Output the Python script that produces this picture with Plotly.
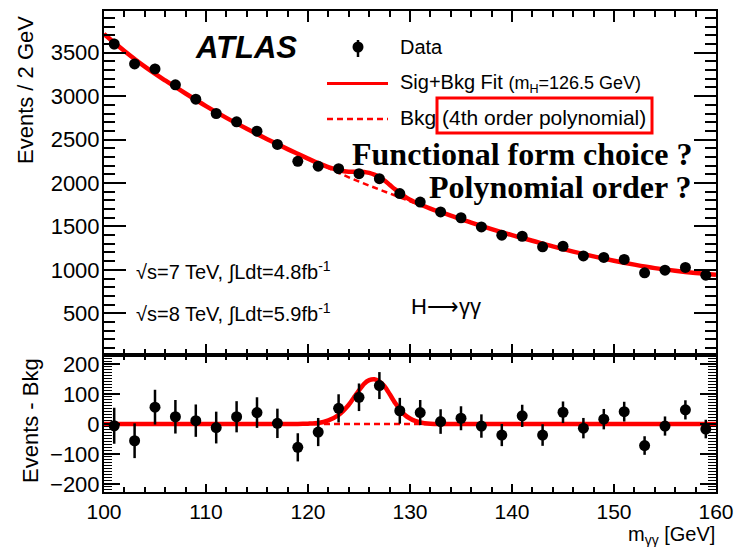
import numpy as np
import plotly.graph_objects as go

# ---------------- data ----------------
mass = [101, 103, 105, 107, 109, 111, 113, 115, 117, 119,
        121, 123, 125, 127, 129, 131, 133, 135, 137, 139,
        141, 143, 145, 147, 149, 151, 153, 155, 157, 159]
events = [3600, 3371, 3313, 3130, 2965, 2800, 2704, 2597, 2444, 2250,
          2193, 2165, 2107, 2050, 1878, 1781, 1667, 1600, 1494, 1399,
          1387, 1265, 1272, 1161, 1143, 1120, 966, 997, 1028, 939]
errors = [60, 58, 58, 56, 54, 53, 52, 51, 49, 47,
          47, 47, 46, 45, 43, 42, 41, 40, 39, 37,
          37, 36, 36, 34, 34, 33, 31, 32, 32, 31]
residual = [-6, -56, 56, 24, 11, -12, 24, 38, 2, -78,
            -27, 52, 89, 128, 44, 38, 8, 19, -7, -37,
            27, -37, 39, -14, 16, 41, -72, -7, 47, -17]

# background (4th order polynomial) curve read at 2 GeV steps
bkg_x = [100, 102, 104, 106, 108, 110, 112, 114, 116, 118, 120,
         122, 124, 126, 128, 130, 132, 134, 136, 138, 140,
         142, 144, 146, 148, 150, 152, 154, 156, 158, 160]
bkg_y = [3715, 3520, 3340, 3180, 3030, 2885, 2750, 2625, 2505, 2390, 2280,
         2170, 2065, 1970, 1880, 1790, 1705, 1625, 1545, 1470, 1400,
         1335, 1270, 1210, 1155, 1105, 1060, 1020, 990, 965, 945]

# signal component (Sig+Bkg fit minus Bkg), as seen in the lower panel
sig_x = [100, 118, 119, 120, 121, 122, 123, 124, 124.5, 125, 125.5, 126,
         126.5, 127, 127.5, 128, 128.5, 129, 129.5, 130, 130.5, 131, 132,
         133, 134, 160]
sig_y = [0, 0, 0, 1, 3, 12, 30, 64, 88, 112, 134, 146,
         149, 141, 126, 100, 72, 50, 30, 18, 10, 5, 1,
         0, 0, 0]

x_ticks = [100, 110, 120, 130, 140, 150, 160]
y_ticks_top = [500, 1000, 1500, 2000, 2500, 3000, 3500]
y_ticks_low = [-200, -100, 0, 100, 200]

# ---------------- derived curves ----------------
fit_x = sorted(set(bkg_x) | set(sig_x))
fit_y = list(np.interp(fit_x, bkg_x, bkg_y) + np.interp(fit_x, sig_x, sig_y))
zero_y = [0 for _ in bkg_x]

# ---------------- layout geometry (pixels) ----------------
W, H = 735, 547
L, R, T, B = 104, 716, 11, 492
SPLIT = 355


def px(x):
    return (x - L) / (R - L)


def py(y):
    return (B - y) / (B - T)


RED = "#ff0000"
SANS = "Liberation Sans, Arial, Helvetica, sans-serif"
SERIF = "Liberation Serif, Times New Roman, serif"

fig = go.Figure()

# ---- upper panel ----
fig.add_trace(go.Scatter(x=bkg_x, y=bkg_y, mode="lines", xaxis="x", yaxis="y",
                         line=dict(color=RED, width=2.5, dash="6px,4px", shape="spline"),
                         hoverinfo="skip", showlegend=False))
fig.add_trace(go.Scatter(x=fit_x, y=fit_y, mode="lines", xaxis="x", yaxis="y",
                         line=dict(color=RED, width=4.5, shape="spline"),
                         hoverinfo="skip", showlegend=False))
fig.add_trace(go.Scatter(x=mass, y=events, mode="markers", xaxis="x", yaxis="y",
                         marker=dict(color="black", size=11),
                         error_y=dict(type="data", array=errors, color="black",
                                      thickness=2.5, width=0),
                         showlegend=False))

# ---- lower panel ----
fig.add_trace(go.Scatter(x=bkg_x, y=zero_y, mode="lines", xaxis="x2", yaxis="y2",
                         line=dict(color=RED, width=2.5, dash="6px,4px"),
                         hoverinfo="skip", showlegend=False))
fig.add_trace(go.Scatter(x=sig_x, y=sig_y, mode="lines", xaxis="x2", yaxis="y2",
                         line=dict(color=RED, width=4.5, shape="spline", smoothing=0.6),
                         hoverinfo="skip", showlegend=False))
fig.add_trace(go.Scatter(x=mass, y=residual, mode="markers", xaxis="x2", yaxis="y2",
                         marker=dict(color="black", size=11),
                         error_y=dict(type="data", array=errors, color="black",
                                      thickness=2.5, width=0),
                         showlegend=False))

split_frac = py(SPLIT)

axis_common = dict(showline=True, linecolor="black", linewidth=2, mirror="allticks",
                   ticks="inside", tickcolor="black", tickwidth=1.5,
                   showgrid=False, zeroline=False, automargin=False)

fig.update_layout(
    width=W, height=H,
    margin=dict(l=L, r=W - R, t=T, b=H - B, pad=0),
    paper_bgcolor="white", plot_bgcolor="white",
    font=dict(family=SANS, color="black"),
    showlegend=False,
    xaxis=dict(domain=[0, 1], anchor="y", range=[100, 160], matches="x2",
               tickvals=x_ticks, ticklen=11, showticklabels=False,
               minor=dict(dtick=2, tick0=100, ticklen=6, ticks="inside",
                          tickcolor="black", tickwidth=1.5, showgrid=False),
               **axis_common),
    yaxis=dict(domain=[split_frac, 1], anchor="x", range=[20, 3980],
               tickvals=y_ticks_top, ticklen=22,
               tickfont=dict(size=22, family=SANS, color="black"),
               ticklabelstandoff=-2,
               minor=dict(dtick=100, tick0=0, ticklen=11, ticks="inside",
                          tickcolor="black", tickwidth=1.5, showgrid=False),
               **axis_common),
    xaxis2=dict(domain=[0, 1], anchor="y2", range=[100, 160],
                tickvals=x_ticks, ticklen=8,
                tickfont=dict(size=21, family=SANS, color="black"),
                ticklabelstandoff=0,
                minor=dict(dtick=2, tick0=100, ticklen=5, ticks="inside",
                           tickcolor="black", tickwidth=1.5, showgrid=False),
                **axis_common),
    yaxis2=dict(domain=[0, split_frac], anchor="x2", range=[-227, 230],
                tickvals=y_ticks_low, ticklen=16,
                tickfont=dict(size=22, family=SANS, color="black"),
                ticklabelstandoff=-2,
                minor=dict(dtick=10, tick0=0, ticklen=8, ticks="inside",
                           tickcolor="black", tickwidth=1.2, showgrid=False),
                **axis_common),
)

ann = []


def text(x, y, s, size=20, xanchor="left", family=SANS, angle=0, yanchor="middle"):
    ann.append(dict(x=px(x), y=py(y), xref="paper", yref="paper", text=s,
                    showarrow=False, xanchor=xanchor, yanchor=yanchor,
                    textangle=angle, font=dict(size=size, family=family, color="black")))


text(193, 47, "<b><i>ATLAS</i></b>", size=31)
text(398, 47, "Data", size=20)
text(398, 83, "Sig+Bkg Fit <span style='font-size:18px'>(m<sub>H</sub>=126.5 GeV)</span>", size=20)
text(398, 117, "Bkg (4th order polynomial)", size=21)
text(694, 154, "<b>Functional form choice ?</b>", size=32, xanchor="right", family=SERIF)
text(694, 187, "<b>Polynomial order ?</b>", size=32, xanchor="right", family=SERIF)
text(134, 271, "√s=7 TeV, ∫Ldt=4.8fb<sup>-1</sup>", size=20)
text(134, 313, "√s=8 TeV, ∫Ldt=5.9fb<sup>-1</sup>", size=20)
text(409, 306, "H⟶γγ", size=22)
text(26, 90, "Events / 2 GeV", size=22, xanchor="center", angle=-90)
text(31, 421, "Events - Bkg", size=22, xanchor="center", angle=-90)
text(717, 535, "m<sub>γγ</sub> [GeV]", size=20, xanchor="right")

fig.update_layout(annotations=ann)

shapes = []
# legend: data marker with error bar
shapes.append(dict(type="line", xref="paper", yref="paper",
                   x0=px(358), x1=px(358), y0=py(40), y1=py(57),
                   line=dict(color="black", width=2.5)))
shapes.append(dict(type="circle", xref="paper", yref="paper",
                   x0=px(352.5), x1=px(363.5), y0=py(41.5), y1=py(52.5),
                   fillcolor="black", line=dict(color="black", width=0)))
# legend: solid fit line
shapes.append(dict(type="line", xref="paper", yref="paper",
                   x0=px(327), x1=px(388), y0=py(83.5), y1=py(83.5),
                   line=dict(color=RED, width=3)))
# legend: dashed bkg line
shapes.append(dict(type="line", xref="paper", yref="paper",
                   x0=px(327), x1=px(388), y0=py(119), y1=py(119),
                   line=dict(color=RED, width=2.5, dash="6px,4px")))
# red highlight box
shapes.append(dict(type="rect", xref="paper", yref="paper",
                   x0=px(437), x1=px(652), y0=py(98), y1=py(133),
                   line=dict(color=RED, width=3), fillcolor="rgba(0,0,0,0)"))
fig.update_layout(shapes=shapes)

fig.write_html(
    "out.html",
    config={"displayModeBar": False},
    post_script="document.body.style.margin='0';document.body.style.overflow='hidden';",
)
